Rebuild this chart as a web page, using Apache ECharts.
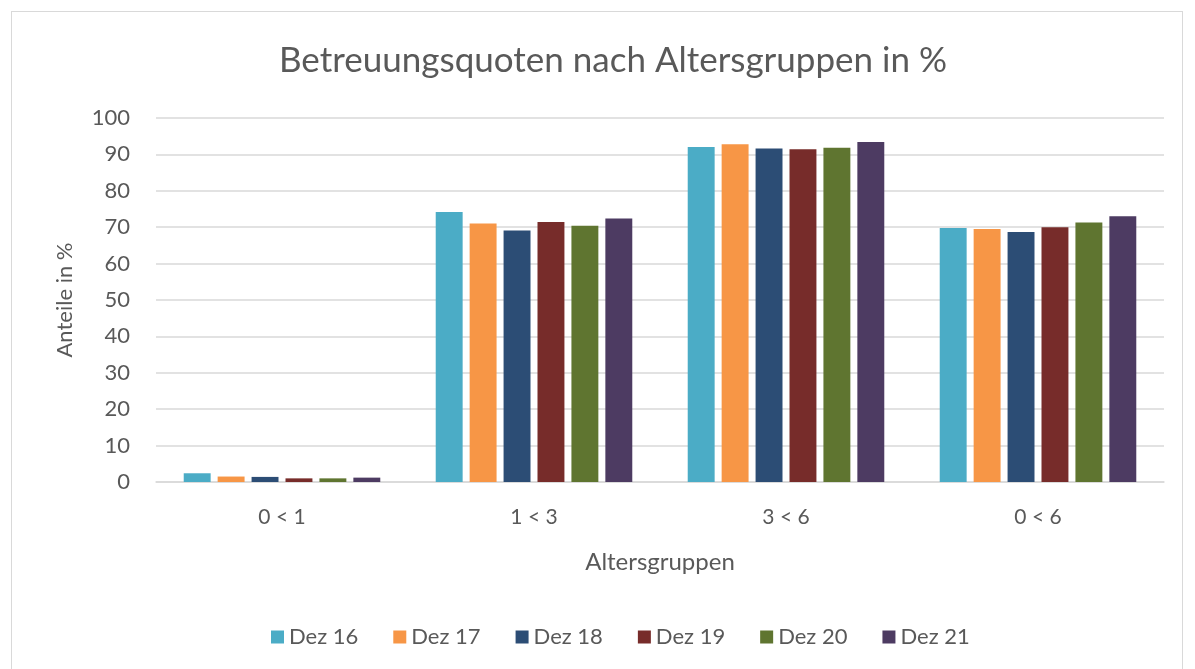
<!DOCTYPE html>
<html>
<head>
<meta charset="utf-8">
<script src="https://cdn.jsdelivr.net/npm/echarts@6/dist/echarts.min.js"></script>
<style>
  html, body { margin: 0; padding: 0; background: #fff; }
  #chart {
    position: absolute;
    left: 11px;
    top: 11px;
    width: 1172px;
    height: 660px;
    border: 1px solid #d9d9d9;
    box-sizing: border-box;
  }
</style>
</head>
<body>
<div id="chart"></div>
<script>
const categories = ["0 < 1", "1 < 3", "3 < 6", "0 < 6"];
const seriesNames = ["Dez 16", "Dez 17", "Dez 18", "Dez 19", "Dez 20", "Dez 21"];
const dez16 = [2.4, 74.2, 92.0, 69.8];
const dez17 = [1.5, 71.0, 92.8, 69.5];
const dez18 = [1.4, 69.1, 91.6, 68.7];
const dez19 = [1.0, 71.4, 91.4, 70.0];
const dez20 = [1.0, 70.4, 91.8, 71.3];
const dez21 = [1.2, 72.4, 93.4, 73.0];
const colors = ["#4bacc6", "#f79646", "#2c4d75", "#772c2a", "#5f7530", "#4d3b62"];

const values = [dez16, dez17, dez18, dez19, dez20, dez21];
const font = "Lato, 'Noto Sans', sans-serif";

const myChart = echarts.init(document.getElementById("chart"));
const option = {
  animation: false,
  color: colors,
  textStyle: { fontFamily: font },
  title: {
    text: "Betreuungsquoten nach Altersgruppen in %",
    left: 262,
    top: 26,
    textStyle: { color: "#595959", fontSize: 35, fontWeight: "normal", fontFamily: font },
  },
  legend: {
    top: 609,
    left: 254,
    itemWidth: 13,
    itemHeight: 13,
    itemGap: 35,
    icon: "rect",
    textStyle: { color: "#595959", fontSize: 22, fontFamily: font },
    data: seriesNames,
  },
  grid: {
    left: 144,
    right: 18,
    top: 106,
    bottom: 188,
  },
  xAxis: {
    type: "category",
    data: categories,
    name: "Altersgruppen",
    nameLocation: "middle",
    nameGap: 68,
    nameTextStyle: { color: "#595959", fontSize: 24, fontFamily: font },
    axisLine: { lineStyle: { color: "#d9d9d9", width: 1.5 } },
    axisTick: { show: false },
    axisLabel: { color: "#595959", fontSize: 21, margin: 25 },
  },
  yAxis: {
    type: "value",
    min: 0,
    max: 100,
    interval: 10,
    name: "Anteile in %",
    nameLocation: "middle",
    nameGap: 80,
    nameTextStyle: { color: "#595959", fontSize: 22, fontFamily: font },
    axisLine: { show: false },
    axisTick: { show: false },
    axisLabel: { color: "#595959", fontSize: 22, margin: 26 },
    splitLine: { lineStyle: { color: "#d9d9d9", width: 1.5 } },
  },
  series: seriesNames.map((name, i) => ({
    name: name,
    type: "bar",
    data: values[i],
    barGap: "26%",
    barCategoryGap: "22%",
    itemStyle: { color: colors[i] },
  })),
};
myChart.setOption(option);
</script>
</body>
</html>
